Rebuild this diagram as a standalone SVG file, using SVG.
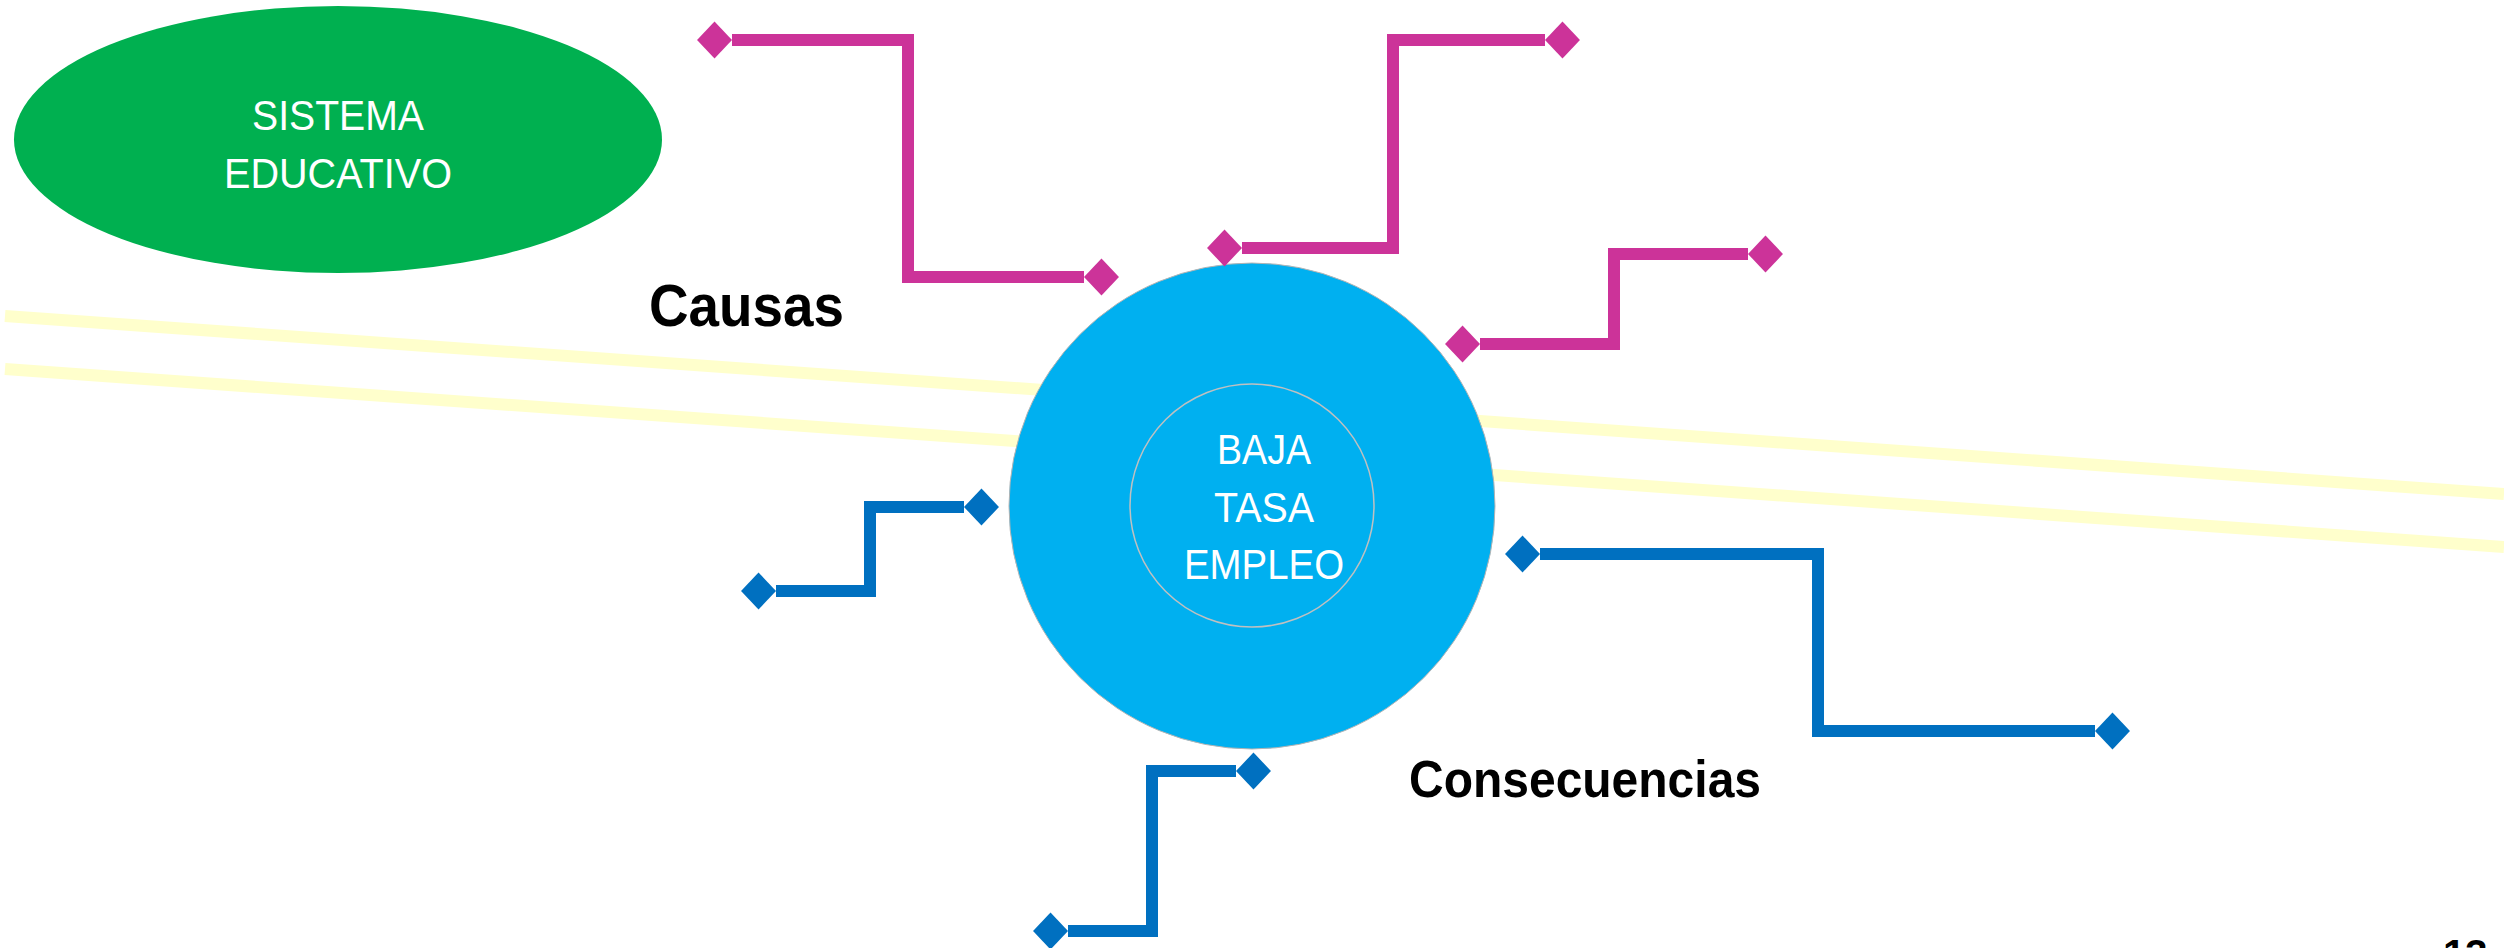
<svg xmlns="http://www.w3.org/2000/svg" width="2504" height="948" viewBox="0 0 2504 948">
<style>
.band{fill:none;stroke:#ffffcc;stroke-width:12;stroke-linecap:butt}
.pink{fill:none;stroke:#cc3399;stroke-width:12;stroke-linejoin:miter}
.blue{fill:none;stroke:#0070c0;stroke-width:12;stroke-linejoin:miter}
.lbl{font-family:"Liberation Sans",Arial,sans-serif;font-size:42px;fill:#ffffff;text-anchor:middle}
.title{font-family:"Liberation Sans",Arial,sans-serif;font-weight:bold;fill:#000000}
</style>
<defs>
<marker id="dP" markerUnits="userSpaceOnUse" markerWidth="36" markerHeight="38" viewBox="0 -18 35 36" refX="0" refY="0" orient="auto-start-reverse" overflow="visible">
<path d="M0 0 L17 -18 L34 0 L17 18 Z" fill="#cc3399"/>
</marker>
<marker id="dB" markerUnits="userSpaceOnUse" markerWidth="36" markerHeight="38" viewBox="0 -18 35 36" refX="0" refY="0" orient="auto-start-reverse" overflow="visible">
<path d="M0 0 L17 -18 L34 0 L17 18 Z" fill="#0070c0"/>
</marker>
</defs>
<rect width="2504" height="948" fill="#ffffff"/>
<g id="bands">
<line class="band" x1="5" y1="316" x2="2504" y2="494"/>
<line class="band" x1="5" y1="369" x2="2504" y2="547"/>
</g>
<g id="sistema-educativo">
<ellipse cx="338" cy="139.5" rx="324" ry="133.5" fill="#00b050"/>
<text class="lbl" x="338" y="130" textLength="172" lengthAdjust="spacingAndGlyphs">SISTEMA</text>
<text class="lbl" x="338" y="188" textLength="228" lengthAdjust="spacingAndGlyphs">EDUCATIVO</text>
</g>
<g id="baja-tasa-empleo">
<circle cx="1252" cy="506" r="243" fill="#00b0f0" stroke="#b4b4b4" stroke-width="1"/>
<ellipse cx="1252" cy="505.5" rx="122" ry="121.5" fill="#00b0f0" stroke="#c0c0c0" stroke-width="1.5"/>
<text class="lbl" x="1264" y="464" textLength="94" lengthAdjust="spacingAndGlyphs">BAJA</text>
<text class="lbl" x="1264" y="522" textLength="100" lengthAdjust="spacingAndGlyphs">TASA</text>
<text class="lbl" x="1264" y="579" textLength="160" lengthAdjust="spacingAndGlyphs">EMPLEO</text>
</g>
<g id="connectors">
<path class="pink" d="M732 40 H908 V277 H1084" marker-start="url(#dP)" marker-end="url(#dP)"/>
<path class="pink" d="M1242 248 H1393 V40 H1545" marker-start="url(#dP)" marker-end="url(#dP)"/>
<path class="pink" d="M1480 344 H1614 V254 H1748" marker-start="url(#dP)" marker-end="url(#dP)"/>
<path class="blue" d="M776 591 H870 V507 H964" marker-start="url(#dB)" marker-end="url(#dB)"/>
<path class="blue" d="M1068 931 H1152 V771 H1236" marker-start="url(#dB)" marker-end="url(#dB)"/>
<path class="blue" d="M1540 554 H1818 V731 H2095" marker-start="url(#dB)" marker-end="url(#dB)"/>
</g>
<g id="causas">
<text class="title" x="649" y="326" font-size="60" textLength="195" lengthAdjust="spacingAndGlyphs">Causas</text>
</g>
<g id="consecuencias">
<text class="title" x="1409" y="797" font-size="52" textLength="352" lengthAdjust="spacingAndGlyphs">Consecuencias</text>
</g>
<g id="page-number">
<text class="title" x="2443" y="968" font-size="40">13</text>
</g>
</svg>
